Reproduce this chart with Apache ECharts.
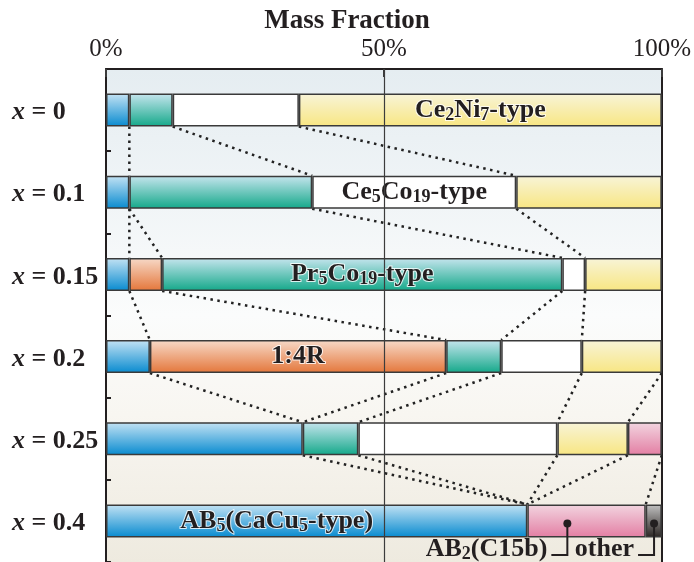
<!DOCTYPE html>
<html>
<head>
<meta charset="utf-8">
<title>Mass Fraction</title>
<script src="https://cdn.jsdelivr.net/npm/echarts@6/dist/echarts.min.js"></script>
<style>
  html, body { margin: 0; padding: 0; background: #ffffff; }
  #chart { width: 694px; height: 562px; }
</style>
</head>
<body>
<div id="chart"></div>
<script>
// Compositions (x) and phase mass fractions in percent, one array per phase
const compositions = ['0', '0.1', '0.15', '0.2', '0.25', '0.4'];
const phaseNames = ['AB5', '1:4R', 'Pr5Co19-type', 'Ce5Co19-type', 'Ce2Ni7-type', 'AB2 (C15b)', 'other'];
const ab5     = [4.2, 4.2, 4.2, 7.9, 35.4, 75.8];
const r14     = [null, null, 5.9, 53.3, null, null];
const pr5co19 = [7.8, 32.9, 72.0, 9.9, 10.0, null];
const ce5co19 = [22.7, 36.7, 4.1, 14.5, 35.8, null];
const ce2ni7  = [65.3, 26.2, 13.8, 14.4, 12.7, null];
const ab2     = [null, null, null, null, 6.1, 21.3];
const other   = [null, null, null, null, null, 2.9];
const phaseValues = [ab5, r14, pr5co19, ce5co19, ce2ni7, ab2, other];

// Phase names written inside bars: [phase index, row index, text]
const segmentLabels = [
  [4, 0, 'Ce{s|2}Ni{s|7}-type'],
  [3, 1, 'Ce{s|5}Co{s|19}-type'],
  [2, 2, 'Pr{s|5}Co{s|19}-type'],
  [1, 3, '1:4R'],
  [0, 5, 'AB{s|5}(CaCu{s|5}-type)']
];

// Callouts under the last bar
const calloutTexts = ['AB{s|2}(C15b)', 'other'];
const calloutAt = [83, 98.6];
const calloutRow = 5;

const FONT = '"Liberation Serif", "DejaVu Serif", serif';
const INK = '#231f20';
const BAR_H = 33;
const LABEL_SIZE = 26;
const SUB_SIZE = 18;

const grad = (top, bottom) => new echarts.graphic.LinearGradient(0, 0, 0, 1, [
  { offset: 0, color: top }, { offset: 1, color: bottom }
]);
const phaseFill = [
  grad('#c4e3f4', '#078acf'),
  grad('#f7dac9', '#e4763a'),
  grad('#c6e5ee', '#13a889'),
  '#ffffff',
  grad('#f8f4d8', '#f8e682'),
  grad('#f2d5e0', '#e37ea3'),
  grad('#c2c2c2', '#2a2422')
];

const subStyle = {
  fontSize: SUB_SIZE, fontWeight: 'bold', fontFamily: FONT, color: INK,
  verticalAlign: 'bottom', lineHeight: 14,
  textBorderColor: 'rgba(255,255,255,0.8)', textBorderWidth: 2
};

// Boundaries (cumulative percent) of every phase in one row
function boundaries(r) {
  let acc = 0;
  return phaseValues.map(vals => { acc += vals[r] || 0; return acc; });
}

// Dotted links joining the same phase boundary in consecutive rows
const links = [];
for (let r = 0; r < compositions.length - 1; r++) {
  const a = boundaries(r), b = boundaries(r + 1);
  phaseValues.forEach((vals, k) => {
    if (vals[r] === null && vals[r + 1] === null) return;
    if (a[k] > 99.95 && b[k] > 99.95) return;
    links.push([r, a[k], b[k]]);
  });
}

const barSeries = phaseValues.map((vals, k) => ({
  type: 'bar',
  name: phaseNames[k],
  stack: 'mass',
  barWidth: BAR_H,
  z: 2,
  itemStyle: { color: phaseFill[k], borderColor: '#3a3a3a', borderWidth: 1.5 },
  data: vals.map((v, r) => {
    const item = { value: v === null ? '-' : v };
    const lab = segmentLabels.find(s => s[0] === k && s[1] === r);
    if (lab) {
      item.label = {
        show: true,
        position: 'inside',
        offset: k === 0 ? [-40, 0] : [0, 0],
        formatter: lab[2],
        fontSize: LABEL_SIZE, fontWeight: 'bold', fontFamily: FONT, color: INK,
        lineHeight: 28,
        textBorderColor: 'rgba(255,255,255,0.8)', textBorderWidth: 2,
        rich: { s: subStyle }
      };
    }
    return item;
  })
}));

// 50% reference line drawn over the bars
barSeries[barSeries.length - 1].markLine = {
  silent: true,
  symbol: 'none',
  z: 5,
  label: { show: false },
  lineStyle: { color: '#3c3c3c', width: 1.2, type: 'solid' },
  data: [{ xAxis: 50 }]
};

const linkSeries = {
  type: 'custom',
  z: 1,
  silent: true,
  encode: { x: [1, 2], y: 0 },
  data: links,
  renderItem: (params, api) => {
    const r = api.value(0);
    const p1 = api.coord([api.value(1), r]);
    const p2 = api.coord([api.value(2), r + 1]);
    return {
      type: 'line',
      shape: { x1: p1[0], y1: p1[1] + BAR_H / 2, x2: p2[0], y2: p2[1] - BAR_H / 2 },
      style: { stroke: '#222222', lineWidth: 2.5, lineDash: [2.5, 4.5], fill: null }
    };
  }
};

const calloutSeries = {
  type: 'custom',
  z: 6,
  silent: true,
  encode: { x: 0, y: 1 },
  data: calloutAt.map((v, i) => [v, calloutRow, i]),
  renderItem: (params, api) => {
    const p = api.coord([api.value(0), api.value(1)]);
    const i = api.value(2);
    const yDot = p[1] + 2.5;
    const yElbow = p[1] + 34;
    const xEnd = p[0] - 16;
    return {
      type: 'group',
      children: [
        { type: 'polyline',
          shape: { points: [[p[0], yDot], [p[0], yElbow], [xEnd, yElbow]] },
          style: { stroke: INK, lineWidth: 2, fill: null } },
        { type: 'circle', shape: { cx: p[0], cy: yDot, r: 4 }, style: { fill: INK } },
        { type: 'text', x: xEnd - 4, y: yElbow - 6,
          style: {
            text: calloutTexts[i], align: 'right', verticalAlign: 'middle',
            fontSize: LABEL_SIZE, fontWeight: 'bold', fontFamily: FONT, fill: INK, lineHeight: 28,
            rich: { s: { fontSize: SUB_SIZE, fontWeight: 'bold', fontFamily: FONT, fill: INK,
                         verticalAlign: 'bottom', lineHeight: 14 } }
          } }
      ]
    };
  }
};

const chart = echarts.init(document.getElementById('chart'), null, { renderer: 'canvas' });
chart.setOption({
  animation: false,
  title: {
    text: 'Mass Fraction',
    left: 'center',
    top: 3,
    textStyle: { fontSize: 27, fontWeight: 'bold', fontFamily: FONT, color: INK }
  },
  grid: {
    left: 106, right: 32, top: 69, bottom: 0,
    show: true,
    borderWidth: 0,
    backgroundColor: new echarts.graphic.LinearGradient(0, 0, 0, 1, [
      { offset: 0, color: '#e5edf1' },
      { offset: 0.28, color: '#f1f5f7' },
      { offset: 0.5, color: '#fbfcfc' },
      { offset: 0.7, color: '#f8f6f1' },
      { offset: 1, color: '#eeeadf' }
    ])
  },
  xAxis: {
    type: 'value',
    position: 'top',
    min: 0, max: 100, interval: 50,
    splitLine: { show: false },
    axisLine: { show: true, lineStyle: { color: INK, width: 2 } },
    axisTick: { show: true, inside: true, length: 8, lineStyle: { color: '#3c3c3c', width: 2 } },
    axisLabel: { formatter: '{value}%', fontSize: 25, fontFamily: FONT, color: INK, margin: 7 }
  },
  yAxis: [{
    type: 'category',
    inverse: true,
    data: compositions,
    axisLine: { show: true, lineStyle: { color: INK, width: 2 } },
    axisTick: { show: true, inside: true, length: 5, lineStyle: { color: INK, width: 2 } },
    axisLabel: {
      align: 'left',
      margin: 94,
      padding: [5, 0, 0, 0],
      formatter: v => '{i|x}{n| = ' + v + '}',
      rich: {
        i: { fontSize: 26, fontStyle: 'italic', fontWeight: 'bold', fontFamily: FONT, color: INK },
        n: { fontSize: 26, fontWeight: 'bold', fontFamily: FONT, color: INK }
      }
    }
  }, {
    type: 'category',
    inverse: true,
    position: 'right',
    data: compositions,
    axisLine: { show: true, lineStyle: { color: INK, width: 2 } },
    axisTick: { show: false },
    axisLabel: { show: false }
  }],
  series: [linkSeries].concat(barSeries, [calloutSeries])
});
</script>
</body>
</html>
